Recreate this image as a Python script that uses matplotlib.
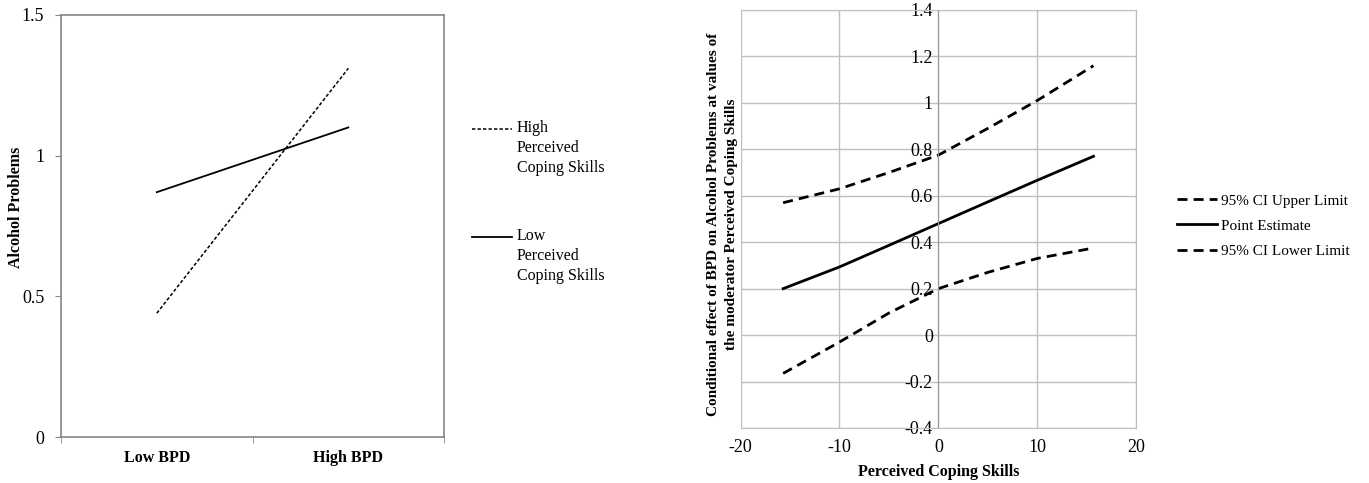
import matplotlib.pyplot as plt
from matplotlib.lines import Line2D

plt.rcParams['font.family'] = ['Liberation Serif', 'DejaVu Serif']
plt.rcParams['font.size'] = 11
plt.rcParams['axes.unicode_minus'] = False

# Left panel: simple slopes
bpd_levels = ['Low BPD', 'High BPD']
high_coping = [0.44, 1.31]
low_coping = [0.87, 1.10]
left_yticks = [0, 0.5, 1, 1.5]

# Right panel: conditional effect with 95% CI
coping = [-15.7, -10, -5, 0, 5, 10, 15.7]
ci_upper = [0.57, 0.63, 0.70, 0.775, 0.89, 1.01, 1.16]
point_est = [0.20, 0.2935, 0.3865, 0.48, 0.5735, 0.6665, 0.77]
ci_lower = [-0.165, -0.03, 0.095, 0.20, 0.27, 0.33, 0.375]
right_xticks = [-20, -10, 0, 10, 20]
right_yticks = [-0.4, -0.2, 0, 0.2, 0.4, 0.6, 0.8, 1, 1.2, 1.4]

fig = plt.figure(figsize=(13.69, 4.83), dpi=100)

# ----- left -----
ax1 = fig.add_axes([0.0446, 0.0952, 0.2798, 0.874])
x = range(len(bpd_levels))
ax1.plot(x, high_coping, color='black', lw=1.1, dashes=(2.2, 1.4))
ax1.plot(x, low_coping, color='black', lw=1.3)
ax1.set_xlim(-0.5, 1.5)
ax1.set_ylim(0, 1.5)
ax1.set_yticks(left_yticks)
ax1.set_yticklabels(['0', '0.5', '1', '1.5'], fontsize=13)
ax1.set_xticks(list(x))
ax1.set_xticklabels(bpd_levels, fontweight='bold', fontsize=11.5)
ax1.set_xticks([-0.5, 0.5, 1.5], minor=True)
ax1.tick_params(axis='x', which='major', length=0, pad=9)
ax1.tick_params(axis='x', which='minor', length=4, color='#868686')
ax1.tick_params(axis='y', length=4, color='#868686', pad=8)
for s in ax1.spines.values():
    s.set_color('#868686')
    s.set_linewidth(1.2)
fig.text(16 / 1369, 1 - 207 / 483, 'Alcohol Problems', rotation=90,
         ha='center', va='center', fontweight='bold', fontsize=11.5)

# manual legend for the left panel (handle sits on the first text line)
for ypix, label, dash in [(129, 'High\nPerceived\nCoping Skills', (2.2, 1.4)),
                          (237, 'Low\nPerceived\nCoping Skills', None)]:
    ln = Line2D([472 / 1369, 512 / 1369], [1 - ypix / 483] * 2, color='black',
                lw=1.1 if dash else 1.3, transform=fig.transFigure)
    if dash:
        ln.set_dashes(dash)
    fig.add_artist(ln)
    fig.text(517 / 1369, 1 - (ypix - 9) / 483, label, ha='left', va='top',
             linespacing=1.33, fontsize=11.5)

# ----- right -----
ax2 = fig.add_axes([0.541, 0.1139, 0.2888, 0.8654])
# move the y axis to x=0 first (this resets the tick objects)
ax2.spines['left'].set_position(('data', 0))
ax2.spines['left'].set_color('#9a9a9a')
ax2.plot(coping, ci_upper, color='black', lw=2, dashes=(3.6, 2.2),
         label='95% CI Upper Limit')
ax2.plot(coping, point_est, color='black', lw=2, label='Point Estimate')
ax2.plot(coping, ci_lower, color='black', lw=2, dashes=(3.6, 2.2),
         label='95% CI Lower Limit')
ax2.set_xlim(-20, 20)
ax2.set_ylim(-0.4, 1.4)
ax2.set_xticks(right_xticks)
ax2.set_xticklabels([str(v) for v in right_xticks])
ax2.set_yticks(right_yticks)
ax2.set_yticklabels(['-0.4', '-0.2', '0', '0.2', '0.4', '0.6', '0.8', '1', '1.2', '1.4'])
ax2.grid(True, color='#bfbfbf', lw=1)
ax2.set_axisbelow(True)
for s in ['top', 'right', 'bottom']:
    ax2.spines[s].set_color('#bfbfbf')
ax2.tick_params(axis='y', length=0, pad=4, labelsize=13)
ax2.tick_params(axis='x', length=0, pad=8, labelsize=13)
ax2.set_xlabel('Perceived Coping Skills', fontweight='bold', fontsize=11.5,
               labelpad=6)
fig.text(722 / 1369, 1 - 224 / 483,
         'Conditional effect of BPD on Alcohol Problems at values of\n'
         'the moderator Perceived Coping Skills',
         rotation=90, ha='center', va='center', ma='center',
         fontweight='bold', linespacing=1.5, fontsize=11)
ax2.legend(loc='center left', bbox_to_anchor=(1177 / 1369, 1 - 226 / 483),
           bbox_transform=fig.transFigure, frameon=False, handlelength=2.6,
           handletextpad=0.3, labelspacing=0.75, borderpad=0, borderaxespad=0)

fig.savefig('out.png', dpi=100)
